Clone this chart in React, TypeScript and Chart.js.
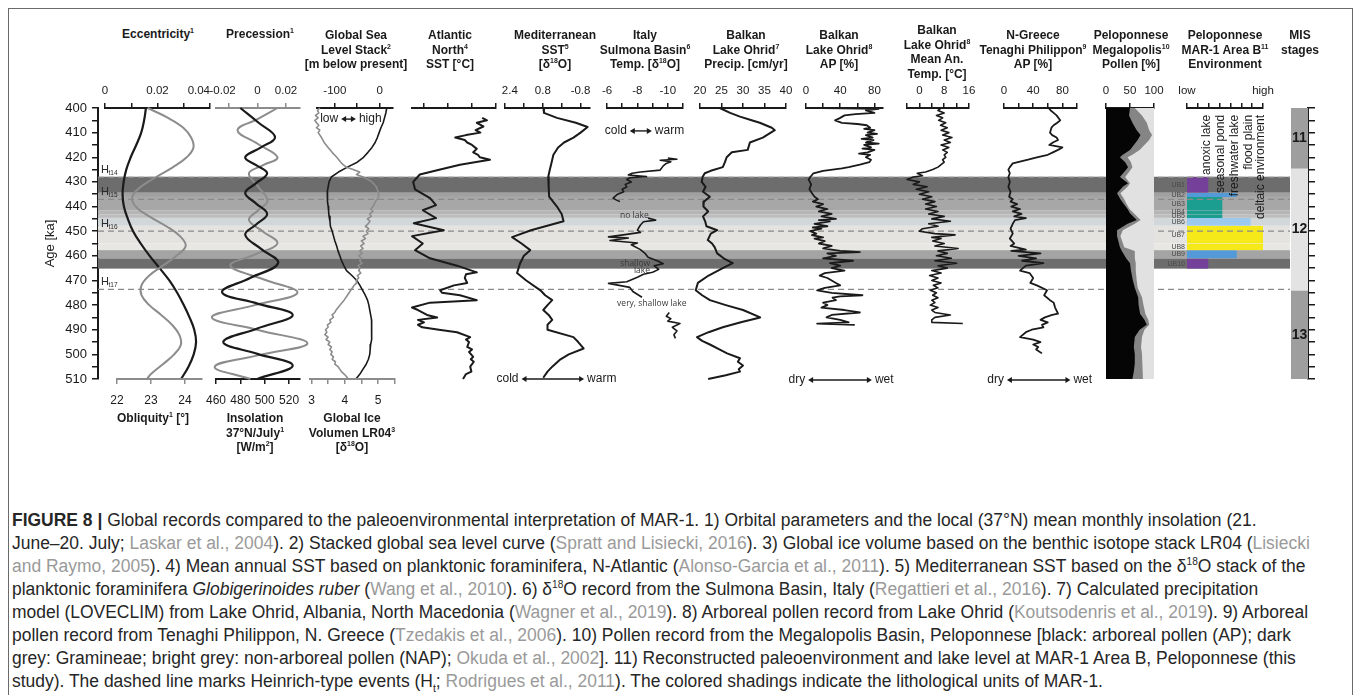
import React, { useEffect, useRef } from 'react';
import { Chart, registerables } from 'chart.js';

Chart.register(...registerables);
const FONT = "'Liberation Sans', Arial, Helvetica, sans-serif";
Chart.defaults.font.family = FONT;
Chart.defaults.color = '#1a1a1a';

// ====================== DATA ======================
const AGE_MIN = 400;
const AGE_MAX = 510;

// Lithological units of MAR-1 (Area B)
const unitName = ['UB1', 'UB2', 'UB3', 'UB4', 'UB5', 'UB6', 'UB7', 'UB8', 'UB9', 'UB10'];
const unitTop = [427.9, 434.4, 436.1, 441.5, 443.3, 444.6, 447.8, 455.0, 457.7, 461.1];
const unitBottom = [434.4, 436.1, 441.5, 443.3, 444.6, 447.8, 455.0, 457.7, 461.1, 465.2];
const unitLevel = [1.96, 4.58, 3.25, 3.25, 3.25, 5.86, 7.0, 7.0, 4.58, 1.96];
const unitColor = ['#74409a', '#559ad8', '#1b9e8f', '#1b9e8f', '#1b9e8f', '#9ccaee', '#f6e91a', '#f6e91a', '#559ad8', '#74409a'];
const unitBand = ['#6d6d6d', '#a0a0a0', '#a7a7a7', '#b5b5b5', '#bdbdbd', '#d2d7d9', '#e5e3df', '#e9e7e3', '#a4a4a4', '#6d6d6d'];
const envClass = ['anoxic lake', 'seasonal pond', 'freshwater lake', 'flood plain', 'deltaic environment'];
const envClassLevel = [1.96, 3.25, 4.58, 5.86, 7.0];

// Heinrich-type events
const heinrichName = ['14', '15', '16', '17'];
const heinrichAge = [428.2, 437.1, 450.0, 473.6];

// MIS stages
const misStage = ['11', '12', '13'];
const misStart = [400, 424.4, 474.0];
const misEnd = [424.4, 474.0, 510];
const misColor = ['#9e9e9e', '#e3e3e3', '#9e9e9e'];

// 1) Eccentricity / Obliquity
const eccAge = [400, 405, 410, 415, 420, 425, 430, 435, 440, 445, 450, 455, 460, 465, 470, 475, 480, 485, 490, 495, 500, 505, 510];
const eccVal = [0.0156, 0.0149, 0.0138, 0.0119, 0.0098, 0.0081, 0.0071, 0.0067, 0.0072, 0.0087, 0.0107, 0.0136, 0.017, 0.0208, 0.0245, 0.0275, 0.03, 0.0322, 0.034, 0.0347, 0.0338, 0.0318, 0.029];
const oblAge = [400, 404, 408, 412, 416, 420, 424, 428, 432, 436, 440, 444, 448, 452, 456, 460, 464, 468, 472, 476, 480, 484, 488, 492, 496, 500, 504, 508, 510];
const oblVal = [22.9, 23.5, 23.95, 24.18, 24.25, 24.05, 23.65, 23.15, 22.7, 22.45, 22.55, 22.95, 23.45, 23.85, 24.02, 23.75, 23.35, 22.95, 22.72, 22.72, 22.95, 23.3, 23.62, 23.83, 23.88, 23.68, 23.35, 23.0, 22.88];

// 1) Precession / Insolation 37N July
const precAge = [400, 404.5, 409, 414.5, 420, 423.2, 426.5, 432, 437.6, 441.5, 445.5, 450.2, 455, 459.5, 464, 469.5, 475, 480, 485, 490.2, 495.5, 500.2, 505, 510];
const precVal = [0.014, 0.0, -0.014, 0.0, 0.014, 0.004, -0.006, 0.0005, 0.007, 0.0005, -0.006, 0.004, 0.014, -0.002, -0.019, 0.004, 0.028, -0.002, -0.032, 0.001, 0.035, 0.002, -0.03, -0.005];
const insAge = [400, 406, 411.8, 416, 420, 423.2, 426.5, 430.5, 434.5, 438.8, 443, 447.3, 451.5, 457.2, 463, 469, 474.8, 479.4, 484, 489.5, 495, 499.8, 504.5, 510];
const insVal = [480, 495, 508.5, 497, 484, 493, 502, 493, 484, 493, 502, 493, 484, 497, 511, 488, 465, 494, 523, 494, 466, 494, 523, 494];

// 2) Sea level stack / 3) LR04 ice volume
const seaAge = [400, 402, 404, 406, 408, 410, 412, 414, 416, 418, 420, 422, 424, 426, 428, 430, 432, 434, 436, 438, 440, 442, 444, 446, 448, 450, 452, 454, 456, 458, 460, 462, 464, 466, 468, 470, 472, 474, 476, 478, 480, 482, 484, 486, 488, 490, 492, 494, 496, 498, 500, 502, 504, 506, 508, 510];
const seaVal = [16, 14, 11, 8, 3, -1, -5, -10, -17, -26, -36, -50, -72, -92, -108, -113, -115, -117, -116, -117, -115, -114, -113, -111, -110, -106, -103, -100, -96, -93, -89, -85, -80, -74, -62, -51, -44, -38, -32, -27, -24, -22, -20, -18, -17, -17, -18, -19, -20, -21, -22, -25, -30, -37, -44, -53];
const iceAge = [400, 401, 402, 403, 404, 405, 406, 407, 408, 409, 410, 412, 414, 416, 418, 420, 422, 423, 424, 425, 426, 427, 428, 429, 430, 432, 434, 436, 438, 440, 441, 442, 443, 444, 445, 446, 447, 448, 449, 450, 451, 452, 453, 454, 455, 456, 457, 458, 459, 460, 461, 462, 463, 464, 465, 466, 467, 468, 469, 470, 471, 472, 474, 476, 478, 480, 481, 482, 483, 484, 485, 486, 487, 488, 489, 490, 491, 492, 493, 494, 495, 496, 497, 498, 499, 500, 501, 502, 503, 504, 505, 506, 507, 508, 509, 510];
const iceVal = [3.25, 3.18, 3.22, 3.12, 3.2, 3.1, 3.15, 3.22, 3.15, 3.25, 3.2, 3.3, 3.38, 3.5, 3.62, 3.76, 3.88, 3.95, 4.05, 4.25, 4.45, 4.35, 4.55, 4.7, 4.82, 4.95, 5.0, 5.02, 4.92, 4.85, 4.78, 4.85, 4.75, 4.8, 4.68, 4.76, 4.7, 4.62, 4.72, 4.65, 4.7, 4.55, 4.62, 4.5, 4.58, 4.48, 4.55, 4.45, 4.52, 4.42, 4.5, 4.45, 4.52, 4.4, 4.46, 4.42, 4.48, 4.38, 4.42, 4.34, 4.36, 4.28, 4.18, 4.08, 3.98, 3.86, 3.8, 3.74, 3.7, 3.62, 3.66, 3.55, 3.58, 3.48, 3.5, 3.42, 3.46, 3.4, 3.5, 3.44, 3.55, 3.5, 3.6, 3.55, 3.62, 3.58, 3.66, 3.62, 3.72, 3.7, 3.8, 3.85, 3.9, 3.98, 4.05, 4.1];

// 4) Atlantic North SST
const atlAge = [404, 405, 406, 407.5, 409, 410, 411, 412, 413, 414, 415, 416.6, 418, 419, 420, 421, 421.5, 423, 425, 427, 430, 433, 436.6, 439.4, 441.5, 444.7, 446.8, 449.6, 452, 455, 457.7, 461, 464, 466.7, 467.5, 469, 471, 472, 474, 475, 476, 478, 479, 481, 482, 484, 485, 486, 487, 488, 489, 490, 491, 493, 494, 495, 497, 498, 499, 501, 502, 503, 505, 507, 508, 510];
const atlVal = [13.7, 14.5, 12.8, 13.9, 12.6, 13.4, 11.0, 9.2, 10.8, 11.2, 12.0, 12.8, 12.2, 13.0, 13.3, 15.0, 13.7, 10.0, 6.7, 3.3, 2.2, 2.5, 5.0, 6.0, 3.8, 6.0, 2.3, 7.3, 2.0, 3.8, 2.5, 5.0, 9.5, 12.8, 11.0, 10.8, 11.2, 9.0, 6.7, 7.0, 10.0, 12.8, 5.0, 2.0, 3.0, 4.5, 6.2, 3.0, 4.0, 3.0, 3.7, 6.5, 9.5, 11.7, 11.0, 11.5, 11.2, 12.0, 11.5, 12.2, 11.8, 12.3, 11.7, 11.9, 11.0, 10.5];

// 5) Mediterranean SST (d18O)
const medAge = [400, 402, 404, 406, 407.7, 410, 412, 414, 416, 419, 422.6, 425, 428, 432, 436, 440, 443, 446, 449.6, 452.4, 455, 457.7, 460, 463, 467, 470, 474, 476, 478, 480, 482, 484, 486, 488, 490, 493, 495, 497.6, 500, 502, 505, 507, 509.5];
const medVal = [0.77, 0.75, 0.2, -0.6, -1.1, -0.8, -0.5, -0.1, 0.15, 0.35, 0.44, 0.5, 0.57, 0.55, 0.53, 0.2, 0.0, -0.08, 1.3, 2.1, 1.7, 1.33, 1.6, 1.76, 1.89, 1.5, 0.9, 0.7, 0.4, 0.6, 0.78, 0.55, 0.4, 0.6, 0.6, -0.5, -0.7, -0.93, -0.3, 0.05, 0.4, 0.6, 0.78];

// 6) Italy, Sulmona Basin d18O (three segments)
const ita1Age = [420.3, 420.8, 421.2, 421.8, 422.5, 423.5, 425.2, 426.0, 426.5, 427.2, 427.8, 428.3, 429, 430, 431, 432, 433, 434, 435, 436.6, 437.3, 438];
const ita1Val = [-10.0, -10.6, -9.5, -10.2, -9.9, -9.7, -9.5, -8.2, -7.65, -7.4, -8.6, -7.5, -7.3, -7.6, -7.2, -7.3, -7.0, -7.1, -6.7, -6.4, -6.6, -6.85];
const ita2Age = [444.7, 445.5, 446.2, 447.5, 449.6, 450.5, 451.3, 452.3, 452.8, 453.8, 454.8, 455.5, 457.5, 459, 460.6, 462, 463.2, 464, 465.5, 466.7, 467.5, 468.7, 470.5, 471.2, 472.8, 474.5, 476.8];
const ita2Val = [-8.7, -9.2, -8.4, -8.2, -8.0, -8.2, -7.3, -6.1, -7.4, -6.2, -8.0, -7.6, -8.2, -8.5, -8.7, -9.3, -9.7, -9.1, -9.4, -9.0, -8.4, -8.0, -7.3, -6.1, -7.5, -7.7, -8.3];
const ita3Age = [483, 484.5, 485.5, 486.5, 487.5, 489, 490.5, 492, 493.5];
const ita3Val = [-10.1, -9.9, -10.2, -10.0, -10.8, -10.3, -10.6, -10.4, -10.5];

// 7) Lake Ohrid precipitation
const prcAge = [400, 402, 403.5, 405, 406, 408, 409, 410.5, 412, 414, 417, 418, 420, 422, 424, 425.5, 426.5, 428, 430, 432, 434, 436, 438, 440, 442, 444, 446, 448, 449.6, 451, 453.6, 455, 456.5, 459, 461, 463, 465, 468, 471, 474, 476, 478, 480, 482, 485, 487, 489, 491, 493, 494.5, 496, 498, 499.6, 501.6, 503, 504.5, 506, 507, 508.5, 510];
const prcVal = [24.6, 27, 29.3, 32, 33.9, 36.7, 37.4, 36, 34.6, 31.6, 31.1, 27.4, 26.2, 25.8, 25.3, 22.5, 21.1, 20.6, 20.4, 21.3, 20.7, 22.3, 20.9, 20.8, 21.9, 20.7, 21.2, 21.5, 24.0, 22.5, 21.8, 22.8, 23.4, 24.0, 25.5, 27.6, 25.3, 22.0, 19.5, 19.0, 20.5, 22.3, 26, 30.0, 34.0, 29.5, 25.3, 22, 19.3, 20.5, 22.3, 24.5, 26.3, 29.3, 28.8, 30.0, 29.0, 29.3, 26, 21.9];

// 8) Lake Ohrid AP
const apoAge = [400, 400.3, 401, 402, 402.5, 403, 404, 405, 406, 406.5, 407, 408, 408.5, 409, 410, 410.5, 411, 412, 412.5, 413, 414, 414.5, 415, 416, 416.5, 417, 418, 418.5, 419, 420, 421, 422, 423, 424, 424.5, 425.5, 426.5, 428, 429, 431, 433, 434.6, 436, 437, 438, 439, 440, 441, 442, 443, 444, 445, 445.5, 446, 447, 448, 448.5, 449, 450, 451, 451.6, 452.5, 453, 454, 455, 456, 457, 458, 458.5, 459, 460, 461, 462, 463, 464, 465, 466, 467, 468, 469, 470, 471, 472, 473, 474, 475, 476, 476.5, 477, 478, 479, 480, 481, 482, 483, 484, 485, 486, 487, 487.5, 488];
const apoVal = [20, 85, 70, 80, 58, 45, 40, 34, 42, 60, 71, 75, 68, 80, 72, 83, 70, 78, 65, 79, 70, 85, 68, 76, 66, 80, 72, 62, 75, 70, 76, 74, 63, 50, 42, 20, 8.6, 5, 3, 6, 4, 7, 10, 14, 8, 20, 12, 25, 15, 30, 18, 35, 15, 28, 10, 25, 8, 18, 5, 12, 7, 20, 10, 22, 15, 30, 20, 40, 63, 25, 35, 20, 55, 28, 40, 30, 45, 22, 16, 25, 30, 35, 40, 22, 13, 30, 66, 40, 31, 35, 20, 25, 18, 45, 63, 30, 24, 40, 50, 13, 57];

// 9) Lake Ohrid mean annual temperature
const tmpAge = [400, 401, 402, 403, 404, 405, 406, 407, 408, 409, 410, 411, 412, 413, 414, 415, 416, 417, 418, 419, 420, 421, 422, 423, 424, 425, 426, 426.5, 427.5, 428, 429, 430, 431, 432, 433, 434, 435, 436, 437, 438, 439, 440, 441, 442, 443, 444, 445, 446, 447, 448, 449, 450, 451, 451.5, 452.5, 453, 454, 455, 456, 457, 458, 459, 460, 461, 462, 463, 464, 465, 466, 467, 468, 469, 470, 471, 472, 473, 474, 475, 476, 477, 478, 479, 480, 481, 482, 483, 484, 485, 486, 487, 487.5];
const tmpVal = [7, 6, 8, 5.5, 7.5, 6.2, 8.5, 6.8, 9, 7, 9.5, 7.5, 10.5, 8, 10, 7, 9.5, 7.5, 9, 8, 8.5, 7.5, 8, 7, 6, 4.3, 2, -0.7, 1, -2, -4, 0, -2, 2.5, -1, 3, 0, 4, 1, 5, 2, 5.5, 2, 6, 3, 8, 4, 10, 3, 6, 1, 0, 5, 11.5, 4, 7, 4.3, 8, 5, 12.5, 6, 9, 5.5, 10.3, 5, 12, 6, 9, 4, 7, 3.3, 6, 4, 7, 4.5, 6, 3.5, 5.5, 4.3, 6, 4, 5, 3.5, 6, 4, 5, 10, 5, 4, 4, 14];

// 10) Tenaghi Philippon AP
const ngrAge = [400, 401, 402, 403, 405, 406, 407, 408, 410, 411, 412, 413, 414, 415, 416, 417, 418, 419, 420, 421, 422.5, 424, 425, 426.5, 428, 430, 432, 434, 436, 437, 438, 439, 440, 441, 442, 443, 444, 444.7, 445.5, 447, 449, 451, 453, 455, 456, 457.5, 458, 459, 460, 461, 462, 463, 464, 466, 467, 469, 471, 472, 474, 476, 478, 479, 481, 483.5, 484, 485, 486, 487, 488, 489, 490, 491, 493, 494, 495, 496, 497, 498, 499.6];
const ngrVal = [61, 64, 68, 72, 77, 73, 68, 65, 63, 66, 72, 74, 67, 62, 80, 74, 67, 60, 45, 33, 12, 8, 6, 8, 6, 8, 6, 9, 7, 12, 9, 18, 10, 22, 12, 24, 14, 30, 15, 12, 9, 12, 8, 14, 9, 30, 10, 50, 20, 44, 25, 54, 30, 22, 35, 40, 36, 45, 59, 55, 63, 68, 70, 74, 66, 56, 50, 60, 52, 54, 38, 30, 22, 40, 50, 40, 47, 44, 52];

// 11) Megalopolis pollen (AP, Gramineae)
const polAge = [400, 403, 406, 409, 411, 413, 415, 417, 419, 420, 422, 424, 426, 428, 430.5, 432, 434.6, 437, 438.7, 441, 442.7, 445.5, 447, 449.6, 452, 456.5, 458, 461, 463, 466, 470, 473, 476.8, 480, 483.5, 486, 488, 490, 493, 497, 500, 503.6, 507, 510];
const polAP = [50, 48, 55, 64, 72, 66, 58, 50, 35, 29, 40, 46, 38, 29, 46, 35, 23, 30, 36, 45, 50, 64, 45, 23, 23, 29, 33, 42, 50, 52, 56, 60, 67, 68, 71, 80, 85, 70, 60, 58, 60, 60, 58, 55];
const polGram = [10, 27, 30, 26, 24, 24, 22, 20, 20, 16, 12, 9, 10, 11, 4, 10, 7, 8, 6, 4, 8, 8, 15, 12, 7, 9, 27, 18, 12, 10, 8, 6, 8, 10, 11, 8, 5, 10, 15, 15, 15, 17, 19, 22];

// ====================== LAYOUT ======================
const TOP = 60;
const CH = 400;
const AREA_TOP = 108;
const AREA_BOTTOM = 379;
const TOP_SPACE = AREA_TOP - TOP;
const BOTTOM_SPACE = TOP + CH - AREA_BOTTOM;
const PADX = 32;
const BG_LEFT = 20;
const BG_RIGHT = 1290;
const BLACK = '#1a1a1a';
const GREY = '#8c8c8c';
const NB = '\u00a0';
const CAPTION_TARGET_W = 1298;

const near = (v: number, m: number, off = 0) => { const q = (v - off) / m; return Math.abs(q - Math.round(q)) < 1e-6; };
const num = (v: number) => String(Number(v.toFixed(4)));
const every = (m: number, off = 0) => (v: number) => (near(v, m, off) ? num(v) : '');

type AxisSpec = { id: string; pos: 'top' | 'bottom'; min: number; max: number; step: number; reverse?: boolean; label: (v: number) => string; line: string };
type SeriesSpec = { axis: string; ages: number[]; vals: number[]; color: string; width?: number; fill?: string; tension?: number; order?: number };
type PanelSpec = { key: string; left: number; right: number; axes: AxisSpec[]; series: SeriesSpec[]; areaBg?: string; draw?: (c: any) => void };

function dblArrow(ctx: CanvasRenderingContext2D, x1: number, x2: number, y: number) {
  ctx.beginPath(); ctx.moveTo(x1 + 2, y); ctx.lineTo(x2 - 2, y); ctx.stroke();
  const h = 5, w = 3;
  ctx.beginPath(); ctx.moveTo(x1, y); ctx.lineTo(x1 + h, y - w); ctx.lineTo(x1 + h, y + w); ctx.closePath(); ctx.fill();
  ctx.beginPath(); ctx.moveTo(x2, y); ctx.lineTo(x2 - h, y - w); ctx.lineTo(x2 - h, y + w); ctx.closePath(); ctx.fill();
}

function arrowLabel(chart: any, axis: string, vA: number, vB: number, age: number, leftText: string, rightText: string, font: string) {
  const { ctx } = chart;
  let x1 = chart.scales[axis].getPixelForValue(vA);
  let x2 = chart.scales[axis].getPixelForValue(vB);
  if (x1 > x2) { const t = x1; x1 = x2; x2 = t; }
  const y = chart.scales.y.getPixelForValue(age);
  ctx.save();
  ctx.strokeStyle = BLACK; ctx.fillStyle = BLACK; ctx.lineWidth = 1.4;
  dblArrow(ctx, x1, x2, y);
  ctx.font = font; ctx.textBaseline = 'middle';
  ctx.textAlign = 'right'; ctx.fillText(leftText, x1 - 3, y);
  ctx.textAlign = 'left'; ctx.fillText(rightText, x2 + 3, y);
  ctx.restore();
}

function noteText(chart: any, axis: string, v: number, age: number, text: string) {
  const { ctx } = chart;
  ctx.save();
  ctx.font = "8.5px 'Open Sans', 'Liberation Sans', sans-serif";
  ctx.fillStyle = '#3a3a3a'; ctx.textAlign = 'center'; ctx.textBaseline = 'middle';
  ctx.fillText(text, chart.scales[axis].getPixelForValue(v), chart.scales.y.getPixelForValue(age));
  ctx.restore();
}

const PANELS: PanelSpec[] = [
  {
    key: 'ecc', left: 105, right: 210,
    axes: [{ id: 'xe', pos: 'top', min: 0, max: 0.04, step: 0.01, label: (v) => (near(v, 0.04) && v > 0 ? '0.04' + NB.repeat(7) : every(0.02)(v)), line: BLACK }],
    series: [{ axis: 'xe', ages: eccAge, vals: eccVal, color: BLACK, width: 2.2, tension: 0.4 }],
  },
  {
    key: 'obl', left: 117, right: 202,
    axes: [{ id: 'xo', pos: 'bottom', min: 22, max: 24.5, step: 1, label: every(1), line: GREY }],
    series: [{ axis: 'xo', ages: oblAge, vals: oblVal, color: GREY, width: 2, tension: 0.4 }],
  },
  {
    key: 'prec', left: 216, right: 300,
    axes: [
      { id: 'xp', pos: 'top', min: -0.0291, max: 0.0298, step: 0.02, label: (v) => (near(v, 0.02) && v < -0.01 ? '-0.02' + NB.repeat(4) : every(0.02)(v)), line: GREY },
      { id: 'xi', pos: 'bottom', min: 460, max: 529, step: 20, label: every(20), line: BLACK },
    ],
    series: [
      { axis: 'xp', ages: precAge, vals: precVal, color: GREY, width: 2, tension: 0.4, order: 1 },
      { axis: 'xi', ages: insAge, vals: insVal, color: BLACK, width: 2.2, tension: 0.4, order: 0 },
    ],
  },
  {
    key: 'sea', left: 317, right: 393,
    axes: [{ id: 'xs', pos: 'top', min: -140, max: 30, step: 50, label: every(100), line: BLACK }],
    series: [{ axis: 'xs', ages: seaAge, vals: seaVal, color: BLACK, width: 1.6 }],
    draw: (c) => arrowLabel(c, 'xs', -86, -53, 404.5, 'low', 'high', `12px ${FONT}`),
  },
  {
    key: 'ice', left: 310, right: 395,
    axes: [{ id: 'xv', pos: 'bottom', min: 2.955, max: 5.51, step: 0.5, label: every(1), line: GREY }],
    series: [{ axis: 'xv', ages: iceAge, vals: iceVal, color: GREY, width: 1.6 }],
  },
  {
    key: 'atl', left: 412, right: 496,
    axes: [{ id: 'xa', pos: 'top', min: 2, max: 16, step: 4, label: every(4, 2), line: BLACK }],
    series: [{ axis: 'xa', ages: atlAge, vals: atlVal, color: BLACK, width: 2 }],
  },
  {
    key: 'med', left: 505, right: 590,
    axes: [{ id: 'xm', pos: 'top', min: -1.2, max: 2.4, step: 0.8, reverse: true, label: (v) => (near(v, 2.4) && v > 2 ? NB.repeat(3) + '2.4' : every(1.6, 0.8)(v)), line: BLACK }],
    series: [{ axis: 'xm', ages: medAge, vals: medVal, color: BLACK, width: 2 }],
    draw: (c) => arrowLabel(c, 'xm', 1.7, -0.95, 510, 'cold', 'warm', `12px ${FONT}`),
  },
  {
    key: 'ita', left: 607, right: 683,
    axes: [{ id: 'xt', pos: 'top', min: -11, max: -6, step: 1, reverse: true, label: every(2), line: BLACK }],
    series: [
      { axis: 'xt', ages: ita1Age, vals: ita1Val, color: BLACK, width: 1.6 },
      { axis: 'xt', ages: ita2Age, vals: ita2Val, color: BLACK, width: 1.6 },
      { axis: 'xt', ages: ita3Age, vals: ita3Val, color: BLACK, width: 1.6 },
    ],
    draw: (c) => {
      arrowLabel(c, 'xt', -7.5, -8.95, 409.3, 'cold', 'warm', `12px ${FONT}`);
      noteText(c, 'xt', -7.8, 443.6, 'no lake');
      noteText(c, 'xt', -7.85, 463.2, 'shallow');
      noteText(c, 'xt', -8.3, 466.0, 'lake');
      noteText(c, 'xt', -8.95, 479.4, 'very, shallow lake');
    },
  },
  {
    key: 'prc', left: 700, right: 786,
    axes: [{ id: 'xr', pos: 'top', min: 20, max: 40, step: 5, label: every(5), line: BLACK }],
    series: [{ axis: 'xr', ages: prcAge, vals: prcVal, color: BLACK, width: 2 }],
  },
  {
    key: 'apo', left: 806, right: 883,
    axes: [{ id: 'xh', pos: 'top', min: 0, max: 90, step: 20, label: every(40), line: BLACK }],
    series: [{ axis: 'xh', ages: apoAge, vals: apoVal, color: BLACK, width: 1.8 }],
    draw: (c) => arrowLabel(c, 'xh', 2.5, 77, 510.4, 'dry', 'wet', `12px ${FONT}`),
  },
  {
    key: 'tmp', left: 907, right: 969,
    axes: [{ id: 'xc', pos: 'top', min: -4, max: 16, step: 4, label: every(8), line: BLACK }],
    series: [{ axis: 'xc', ages: tmpAge, vals: tmpVal, color: BLACK, width: 1.6 }],
  },
  {
    key: 'ngr', left: 1004, right: 1077,
    axes: [{ id: 'xg', pos: 'top', min: 0, max: 100, step: 20, label: every(40), line: BLACK }],
    series: [{ axis: 'xg', ages: ngrAge, vals: ngrVal, color: BLACK, width: 1.8 }],
    draw: (c) => arrowLabel(c, 'xg', 4, 91, 510.4, 'dry', 'wet', `12px ${FONT}`),
  },
  {
    key: 'pol', left: 1106, right: 1154,
    axes: [{ id: 'xq', pos: 'top', min: 0, max: 100, step: 50, label: every(50), line: BLACK }],
    areaBg: '#e1e1e1',
    series: [
      { axis: 'xq', ages: polAge, vals: polAP.map((v, i) => v + polGram[i]), color: '#858585', width: 0, fill: 'origin', order: 1 },
      { axis: 'xq', ages: polAge, vals: polAP, color: '#050505', width: 0, fill: 'origin', order: 0 },
    ],
  },
  {
    key: 'env', left: 1187, right: 1263,
    axes: [{ id: 'xn', pos: 'top', min: 0, max: 7, step: 1, label: (v) => (v === 0 ? 'low' : v === 7 ? 'high' : ''), line: BLACK }],
    series: unitName.map((u, i) => ({ axis: 'xn', ages: [unitTop[i], unitBottom[i]], vals: [unitLevel[i], unitLevel[i]], color: unitColor[i], width: 0, fill: 'origin' })),
    draw: (c) => {
      const { ctx } = c; const xs = c.scales.xn; const ys = c.scales.y;
      ctx.save();
      ctx.setLineDash([6, 4]); ctx.strokeStyle = '#8a8a8a'; ctx.lineWidth = 1.2;
      heinrichAge.forEach((a) => {
        const k = unitName.findIndex((_, i) => a >= unitTop[i] && a <= unitBottom[i]);
        if (k < 0) return;
        const y = ys.getPixelForValue(a);
        ctx.beginPath(); ctx.moveTo(xs.getPixelForValue(0), y); ctx.lineTo(xs.getPixelForValue(unitLevel[k]), y); ctx.stroke();
      });
      ctx.setLineDash([]);
      ctx.font = `7px ${FONT}`; ctx.fillStyle = '#4a4a4a'; ctx.textAlign = 'right'; ctx.textBaseline = 'middle';
      unitName.forEach((u, i) => ctx.fillText(u, xs.getPixelForValue(0) - 2, ys.getPixelForValue((unitTop[i] + unitBottom[i]) / 2)));
      ctx.font = `12px ${FONT}`; ctx.fillStyle = BLACK; ctx.textAlign = 'right'; ctx.textBaseline = 'bottom';
      envClass.forEach((t, i) => {
        ctx.save();
        ctx.translate(xs.getPixelForValue(envClassLevel[i]) + 4, ys.getPixelForValue(402.8));
        ctx.rotate(-Math.PI / 2);
        ctx.fillText(t, 0, 0);
        ctx.restore();
      });
      ctx.restore();
    },
  },
];

function panelConfig(p: PanelSpec) {
  const scales: any = { y: { type: 'linear', min: AGE_MIN, max: AGE_MAX, reverse: true, display: false } };
  let hasTop = false, hasBottom = false;
  p.axes.forEach((a) => {
    if (a.pos === 'top') hasTop = true; else hasBottom = true;
    scales[a.id] = {
      type: 'linear', axis: 'x', position: a.pos, min: a.min, max: a.max, reverse: !!a.reverse,
      afterFit: (s: any) => { s.height = a.pos === 'top' ? TOP_SPACE : BOTTOM_SPACE; },
      grid: { drawOnChartArea: false, drawTicks: true, tickLength: 5, color: a.line, lineWidth: 1.5 },
      border: { display: true, color: a.line, width: 2 },
      ticks: {
        stepSize: a.step, includeBounds: false, autoSkip: false, maxRotation: 0, minRotation: 0, color: BLACK,
        padding: a.pos === 'top' ? 5 : 9, font: { size: a.pos === 'top' ? 11.5 : 12 },
        callback: (v: any) => a.label(Number(v)),
      },
    };
  });
  const plugin = {
    id: 'deco_' + p.key,
    beforeDatasetsDraw(chart: any) {
      if (!p.areaBg) return;
      const { ctx, chartArea: ca } = chart;
      ctx.save(); ctx.fillStyle = p.areaBg; ctx.fillRect(ca.left, ca.top, ca.right - ca.left, ca.bottom - ca.top); ctx.restore();
    },
    afterDatasetsDraw(chart: any) { if (p.draw) p.draw(chart); },
  };
  return {
    type: 'line',
    data: {
      datasets: p.series.map((s) => ({
        data: s.ages.map((a, i) => ({ x: s.vals[i], y: a })),
        xAxisID: s.axis, yAxisID: 'y',
        borderColor: s.color, backgroundColor: s.color,
        borderWidth: s.width ?? 1.8,
        fill: s.fill ?? false,
        tension: s.tension ?? 0,
        pointRadius: 0, pointHoverRadius: 0,
        borderJoinStyle: 'round',
        clip: false,
        order: s.order ?? 0,
      })),
    },
    options: {
      indexAxis: 'y', animation: false, responsive: false, events: [],
      layout: { autoPadding: false, padding: { left: PADX, right: PADX, top: hasTop ? 0 : TOP_SPACE, bottom: hasBottom ? 0 : BOTTOM_SPACE } },
      plugins: { legend: { display: false }, tooltip: { enabled: false } },
      scales,
    },
    plugins: [plugin],
  };
}

function backgroundConfig() {
  const bands = {
    id: 'bands',
    beforeDatasetsDraw(chart: any) {
      const { ctx, chartArea: ca } = chart; const y = chart.scales.y;
      ctx.save();
      unitName.forEach((_, i) => {
        const y1 = y.getPixelForValue(unitTop[i]); const y2 = y.getPixelForValue(unitBottom[i]);
        ctx.fillStyle = unitBand[i]; ctx.fillRect(ca.left, y1, ca.right - ca.left, y2 - y1);
      });
      ctx.setLineDash([6, 4]); ctx.strokeStyle = '#8a8a8a'; ctx.lineWidth = 1.2;
      heinrichAge.forEach((a) => { const yy = y.getPixelForValue(a); ctx.beginPath(); ctx.moveTo(ca.left, yy); ctx.lineTo(ca.right, yy); ctx.stroke(); });
      ctx.setLineDash([]);
      ctx.fillStyle = '#2a2a2a'; ctx.textAlign = 'left'; ctx.textBaseline = 'alphabetic';
      heinrichAge.forEach((a, i) => {
        const yy = y.getPixelForValue(a);
        ctx.font = `11px ${FONT}`; ctx.fillText('H', ca.left + 3, yy - 4);
        ctx.font = `6.5px ${FONT}`; ctx.fillText('t' + heinrichName[i], ca.left + 10.5, yy - 2);
      });
      ctx.restore();
    },
  };
  return {
    type: 'line',
    data: { datasets: [] },
    options: {
      animation: false, responsive: false, events: [],
      layout: { autoPadding: false, padding: { left: 0, right: 0, top: TOP_SPACE, bottom: BOTTOM_SPACE } },
      plugins: { legend: { display: false }, tooltip: { enabled: false } },
      scales: {
        x: { type: 'linear', min: 0, max: 1, display: false },
        y: {
          type: 'linear', position: 'left', min: AGE_MIN, max: AGE_MAX, reverse: true, z: 1,
          afterFit: (s: any) => { s.width = 98 - BG_LEFT; },
          grid: { drawOnChartArea: false, tickLength: 6, color: BLACK, lineWidth: 1.5 },
          border: { display: true, color: BLACK, width: 2 },
          ticks: { stepSize: 5, autoSkip: false, padding: 5, color: BLACK, font: { size: 13 }, callback: (v: any) => (Number(v) % 10 === 0 ? String(v) : '') },
          title: { display: true, text: 'Age [ka]', color: BLACK, font: { size: 13 }, padding: { top: 23, bottom: 0 } },
        },
      },
    },
    plugins: [bands],
  };
}

const MIS_LEFT = 1291, MIS_RIGHT = 1308, MIS_AXIS = 20, MIS_PAD = 5;
function misConfig() {
  const labels = {
    id: 'misLabels',
    afterDatasetsDraw(chart: any) {
      const { ctx } = chart;
      ctx.save(); ctx.font = `bold 14px ${FONT}`; ctx.fillStyle = BLACK; ctx.textAlign = 'center'; ctx.textBaseline = 'middle';
      misStage.forEach((s, i) => {
        const el = chart.getDatasetMeta(i).data[0];
        if (!el) return;
        const pr = el.getProps(['x', 'y', 'base'], true);
        ctx.fillText(s, pr.x, (pr.y + pr.base) / 2);
      });
      ctx.restore();
    },
  };
  return {
    type: 'bar',
    data: {
      labels: ['MIS'],
      datasets: misStage.map((s, i) => ({
        label: 'MIS ' + s, data: [[misStart[i], misEnd[i]]], backgroundColor: misColor[i], borderWidth: 0,
        grouped: false, barPercentage: 1, categoryPercentage: 1,
      })),
    },
    options: {
      animation: false, responsive: false, events: [],
      layout: { autoPadding: false, padding: { left: MIS_PAD, right: MIS_PAD, top: TOP_SPACE, bottom: BOTTOM_SPACE } },
      plugins: { legend: { display: false }, tooltip: { enabled: false } },
      scales: {
        x: { type: 'category', display: false },
        y: {
          type: 'linear', position: 'right', min: AGE_MIN, max: AGE_MAX, reverse: true,
          afterFit: (s: any) => { s.width = MIS_AXIS; },
          grid: { drawOnChartArea: false, tickLength: 7, color: BLACK, lineWidth: 1.5 },
          border: { display: true, color: BLACK, width: 2 },
          ticks: { stepSize: 5, autoSkip: false, callback: () => '' },
        },
      },
    },
    plugins: [labels],
  };
}

// ====================== TEXT ======================
const sup = (t: string) => <sup style={{ fontSize: '0.58em', verticalAlign: 'super', lineHeight: 0 }}>{t}</sup>;
const HEADERS: { cx: number; top: number; lines: React.ReactNode[] }[] = [
  { cx: 158, top: 27, lines: [<>Eccentricity{sup('1')}</>] },
  { cx: 260, top: 27, lines: [<>Precession{sup('1')}</>] },
  { cx: 356, top: 28, lines: ['Global Sea', <>Level Stack{sup('2')}</>, '[m below present]'] },
  { cx: 450, top: 28, lines: ['Atlantic', <>North{sup('4')}</>, 'SST [°C]'] },
  { cx: 555, top: 28, lines: ['Mediterranean', <>SST{sup('5')}</>, <>[δ{sup('18')}O]</>] },
  { cx: 645, top: 28, lines: ['Italy', <>Sulmona Basin{sup('6')}</>, <>Temp. [δ{sup('18')}O]</>] },
  { cx: 746, top: 28, lines: ['Balkan', <>Lake Ohrid{sup('7')}</>, 'Precip. [cm/yr]'] },
  { cx: 839, top: 28, lines: ['Balkan', <>Lake Ohrid{sup('8')}</>, 'AP [%]'] },
  { cx: 937, top: 23, lines: ['Balkan', <>Lake Ohrid{sup('8')}</>, 'Mean An.', 'Temp. [°C]'] },
  { cx: 1033, top: 28, lines: ['N-Greece', <>Tenaghi Philippon{sup('9')}</>, 'AP [%]'] },
  { cx: 1131, top: 28, lines: ['Peloponnese', <>Megalopolis{sup('10')}</>, 'Pollen [%]'] },
  { cx: 1225, top: 28, lines: ['Peloponnese', <>MAR-1 Area B{sup('11')}</>, 'Environment'] },
  { cx: 1300, top: 28, lines: ['MIS', 'stages'] },
  { cx: 153, top: 411, lines: [<>Obliquity{sup('1')} [°]</>] },
  { cx: 255, top: 411, lines: ['Insolation', <>37°N/July{sup('1')}</>, <>[W/m{sup('2')}]</>] },
  { cx: 352, top: 411, lines: ['Global Ice', <>Volumen LR04{sup('3')}</>, <>[δ{sup('18')}O]</>] },
];

const G = ({ children }: { children: React.ReactNode }) => <span style={{ color: '#9a9a9a' }}>{children}</span>;
const CAPTION: React.ReactNode[] = [
  <><b>FIGURE 8 |</b> Global records compared to the paleoenvironmental interpretation of MAR-1. 1) Orbital parameters and the local (37°N) mean monthly insolation (21.</>,
  <>June–20. July; <G>Laskar et al., 2004</G>). 2) Stacked global sea level curve (<G>Spratt and Lisiecki, 2016</G>). 3) Global ice volume based on the benthic isotope stack LR04 (<G>Lisiecki</G></>,
  <><G>and Raymo, 2005</G>). 4) Mean annual SST based on planktonic foraminifera, N-Atlantic (<G>Alonso-Garcia et al., 2011</G>). 5) Mediterranean SST based on the δ{sup('18')}O stack of the</>,
  <>planktonic foraminifera <i>Globigerinoides ruber</i> (<G>Wang et al., 2010</G>). 6) δ{sup('18')}O record from the Sulmona Basin, Italy (<G>Regattieri et al., 2016</G>). 7) Calculated precipitation</>,
  <>model (LOVECLIM) from Lake Ohrid, Albania, North Macedonia (<G>Wagner et al., 2019</G>). 8) Arboreal pollen record from Lake Ohrid (<G>Koutsodenris et al., 2019</G>). 9) Arboreal</>,
  <>pollen record from Tenaghi Philippon, N. Greece (<G>Tzedakis et al., 2006</G>). 10) Pollen record from the Megalopolis Basin, Peloponnese [black: arboreal pollen (AP); dark</>,
  <>grey: Gramineae; bright grey: non-arboreal pollen (NAP); <G>Okuda et al., 2002</G>]. 11) Reconstructed paleoenvironment and lake level at MAR-1 Area B, Peloponnese (this</>,
  <>study). The dashed line marks Heinrich-type events (H<sub style={{ fontSize: '0.6em', lineHeight: 0 }}>t</sub>; <G>Rodrigues et al., 2011</G>). The colored shadings indicate the lithological units of MAR-1.</>,
];

export default function App() {
  const bgRef = useRef<HTMLCanvasElement | null>(null);
  const misRef = useRef<HTMLCanvasElement | null>(null);
  const capRef = useRef<HTMLDivElement | null>(null);
  const refs = useRef<(HTMLCanvasElement | null)[]>([]);

  useEffect(() => {
    document.documentElement.style.overflow = 'hidden';
    document.body.style.overflow = 'hidden';
    const box = capRef.current;
    if (box && box.children.length > 1) {
      const w = (box.children[1] as HTMLElement).offsetWidth;
      if (w > 0) box.style.transform = `scaleX(${CAPTION_TARGET_W / w})`;
    }
    const charts: Chart[] = [];
    if (bgRef.current) charts.push(new Chart(bgRef.current, backgroundConfig() as any));
    PANELS.forEach((p, i) => {
      const cv = refs.current[i];
      if (cv) charts.push(new Chart(cv, panelConfig(p) as any));
    });
    if (misRef.current) charts.push(new Chart(misRef.current, misConfig() as any));
    return () => charts.forEach((c) => c.destroy());
  }, []);

  const misW = MIS_PAD + (MIS_RIGHT - MIS_LEFT) + MIS_AXIS + MIS_PAD;
  return (
    <div style={{ position: 'absolute', left: 0, top: 0, width: 1355, height: 695, overflow: 'hidden', background: '#fff', fontFamily: FONT, color: BLACK }}>
      <div style={{ position: 'absolute', left: 8, top: 8, width: 1343, height: 720, border: '1.5px solid #6a6a6a', borderBottom: 'none' }} />
      <canvas ref={bgRef} width={BG_RIGHT - BG_LEFT} height={CH} style={{ position: 'absolute', left: BG_LEFT, top: TOP, width: BG_RIGHT - BG_LEFT, height: CH }} />
      {PANELS.map((p, i) => {
        const w = p.right - p.left + 2 * PADX;
        return (
          <canvas key={p.key} ref={(el) => { refs.current[i] = el; }} width={w} height={CH}
            style={{ position: 'absolute', left: p.left - PADX, top: TOP, width: w, height: CH }} />
        );
      })}
      <canvas ref={misRef} width={misW} height={CH} style={{ position: 'absolute', left: MIS_LEFT - MIS_PAD, top: TOP, width: misW, height: CH }} />
      {HEADERS.map((h, i) => (
        <div key={i} style={{ position: 'absolute', left: h.cx - 110, width: 220, top: h.top, textAlign: 'center', fontWeight: 'bold', fontSize: 12, lineHeight: '14.5px', whiteSpace: 'nowrap' }}>
          {h.lines.map((l, j) => <div key={j}>{l}</div>)}
        </div>
      ))}
      <div ref={capRef} style={{ position: 'absolute', left: 12, top: 0, width: 0, height: 695, transformOrigin: '0 0' }}>
        {CAPTION.map((l, i) => (
          <div key={i} style={{ position: 'absolute', left: 0, top: 508.5 + i * 23, height: 23, lineHeight: '23px', whiteSpace: 'nowrap', fontSize: 18, fontFamily: FONT, color: '#262626' }}>
            {l}
          </div>
        ))}
      </div>
    </div>
  );
}
